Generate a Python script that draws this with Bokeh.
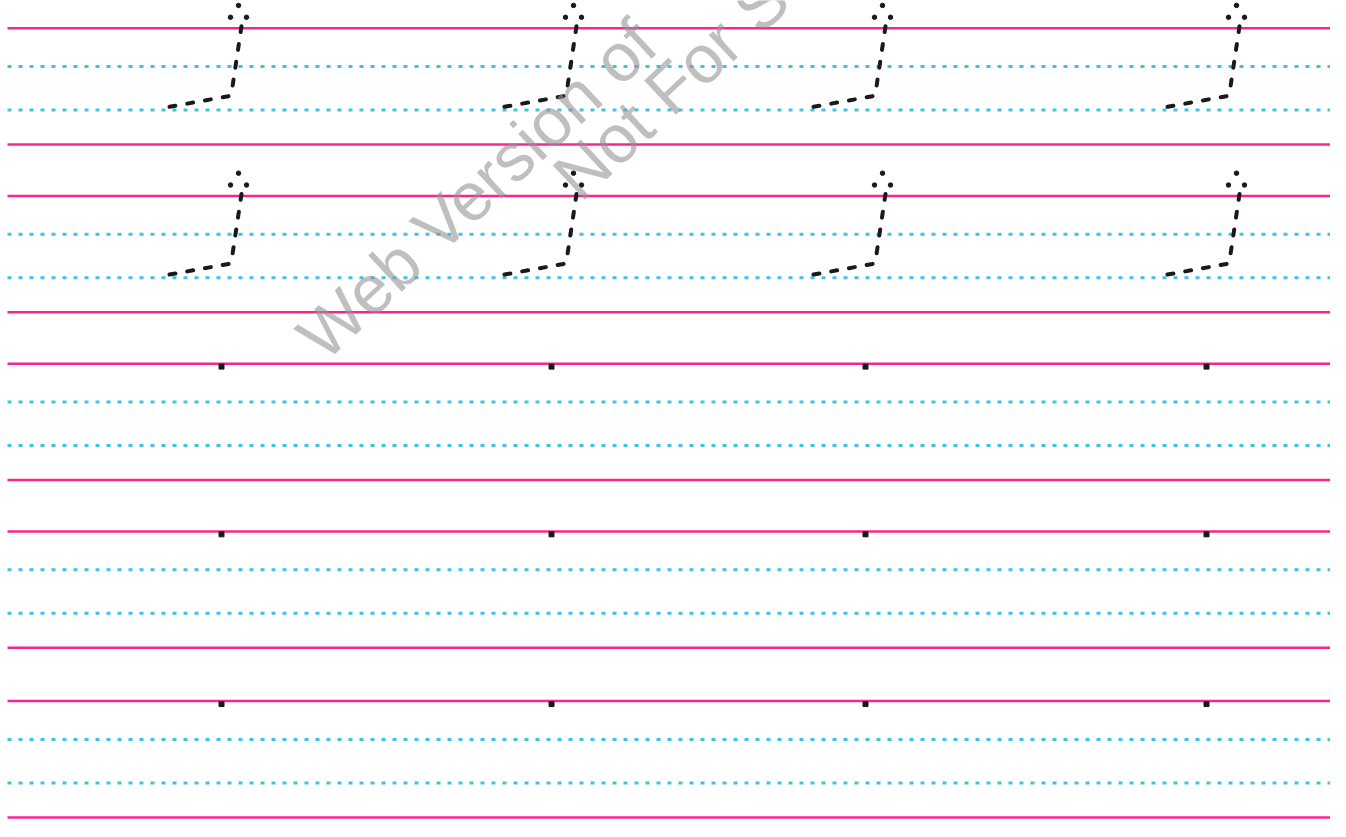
from bokeh.plotting import figure
from bokeh.models import Range1d, ColumnDataSource
from bokeh.core.properties import value
from bokeh.embed import file_html
from bokeh.resources import INLINE

# ---------------- data (pixels, y from top) ----------------
# top (pink) guide line of each writing row
row_tops = [30, 200, 370, 540, 712]
# offsets of the four guide lines inside a row: pink, blue dotted, blue dotted, pink
guide_offsets = [0, 39, 83, 118]
guide_kinds = ["pink", "blue", "blue", "pink"]
line_x_start = 7
line_x_end = 1335

# traced letter: x of the top of its vertical stroke in every column
letter_cols = [241, 576, 885, 1239]
letter_rows = [0, 1]
# stroke template (dx, dy) from (column x, row top)
stroke_dx = [0, -10, -13, -79]
stroke_dy = [-2, 66, 69, 81]
# three start-marker dots above the stroke
marker_dx = [-3, -11, 5]
marker_dy = [-23, -11, -11]

# single starting dots in the empty practice rows
dot_cols = [221, 551, 865, 1206]
dot_rows = [2, 3, 4]
dot_dy = 3

# watermark
wm_texts = ["Web Version of", "Not For Sale"]
wm_x = [308, 564]
wm_y = [352, 190]
wm_angle_deg = 43

PINK = "#f7278f"
BLUE = "#3cc3e6"
INK = "#1a1a1a"

# ---------------- figure ----------------
p = figure(width=1330, height=821, x_range=Range1d(0, 1330), y_range=Range1d(834, 2),
           output_backend="svg", toolbar_location=None, min_border=0)
p.axis.visible = False
p.grid.visible = False
p.outline_line_color = None
p.background_fill_color = "white"
p.border_fill_color = "white"

# guide lines
for r in row_tops:
    for off, kind in zip(guide_offsets, guide_kinds):
        y = r + off
        if kind == "pink":
            p.line([line_x_start, line_x_end], [y, y], line_color=PINK, line_width=2.5)
        else:
            p.line([line_x_start, line_x_end], [y, y], line_color=BLUE, line_width=3,
                   line_dash="4 7")

# traced letters
xs, ys, mx, my = [], [], [], []
for ri in letter_rows:
    for cx in letter_cols:
        top = row_tops[ri]
        xs.append([cx + d for d in stroke_dx])
        ys.append([top + d for d in stroke_dy])
        mx.extend([cx + d for d in marker_dx])
        my.extend([top + d for d in marker_dy])
p.multi_line(xs=xs, ys=ys, line_color=INK, line_width=4, line_dash="6 12",
             line_cap="round", line_join="round")
p.scatter(mx, my, size=4.5, color=INK)

# start dots in practice rows
dx_, dy_ = [], []
for ri in dot_rows:
    for cx in dot_cols:
        dx_.append(cx)
        dy_.append(row_tops[ri] + dot_dy)
p.scatter(dx_, dy_, size=5, marker="square", color=INK)

# watermark
src = ColumnDataSource(dict(x=wm_x, y=wm_y, t=wm_texts))
p.text(x="x", y="y", text="t", source=src, angle=wm_angle_deg, angle_units="deg",
       text_font=value("Liberation Sans"), text_font_size="68px",
       text_color="#949494", text_alpha=0.6, text_align="left",
       text_baseline="alphabetic")

open("out.html", "w").write(file_html(p, INLINE))
